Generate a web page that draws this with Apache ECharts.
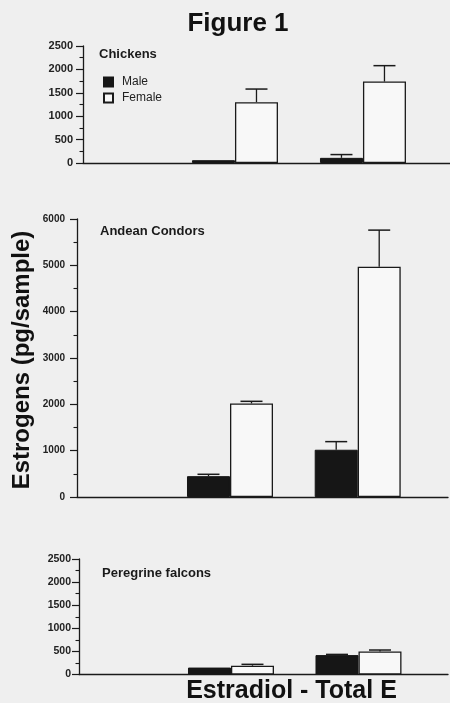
<!DOCTYPE html>
<html><head><meta charset="utf-8">
<script src="https://cdn.jsdelivr.net/npm/echarts@6.0.0/dist/echarts.min.js"></script>
<style>html,body{margin:0;padding:0;background:#efefef}#c{width:450px;height:703px}</style>
</head><body><div id="c"></div><script>
// ---- data ----
const categories = ['Estradiol', 'Total E'];
const panelNames = ['Chickens', 'Andean Condors', 'Peregrine falcons'];
const seriesNames = ['Male', 'Female'];
const chickenMale = [60, 110];
const chickenMaleErr = [0, 70];
const chickenFemale = [1300, 1740];
const chickenFemaleErr = [280, 340];
const condorMale = [450, 1020];
const condorMaleErr = [40, 175];
const condorFemale = [2020, 4970];
const condorFemaleErr = [45, 790];
const falconMale = [150, 420];
const falconMaleErr = [0, 15];
const falconFemale = [190, 500];
const falconFemaleErr = [30, 30];
const yMax = [2500, 6000, 2500];
const yInterval = [500, 1000, 500];

const panels = [
  {male: chickenMale, maleErr: chickenMaleErr, female: chickenFemale, femaleErr: chickenFemaleErr},
  {male: condorMale, maleErr: condorMaleErr, female: condorFemale, femaleErr: condorFemaleErr},
  {male: falconMale, maleErr: falconMaleErr, female: falconFemale, femaleErr: falconFemaleErr}
];

// ---- layout / style ----
const FONT = '"Liberation Sans", Arial, Helvetica, sans-serif';
const INK = '#1a1a1a';
const BAR_W = 43;
const layout = [
  {grid: {left: 83, right: 0, top: 46, bottom: 540}, xMin: -0.1875, xMax: 2.68, lbl: 11, m: 10},
  {grid: {left: 77, right: 2, top: 219, bottom: 206}, xMin: -0.198, xMax: 2.707, lbl: 10, m: 12},
  {grid: {left: 79, right: 2, top: 559, bottom: 28.5}, xMin: -0.192, xMax: 2.702, lbl: 10.5, m: 8}
];

const grids = [], xAxes = [], yAxes = [], series = [];
layout.forEach((L, i) => {
  grids.push(Object.assign({containLabel: false}, L.grid));
  xAxes.push({
    type: 'value', gridIndex: i, min: L.xMin, max: L.xMax,
    axisLine: {show: true, onZero: false, lineStyle: {color: INK, width: 1.3}},
    axisTick: {show: false}, axisLabel: {show: false}, splitLine: {show: false}
  });
  yAxes.push({
    type: 'value', gridIndex: i, min: 0, max: yMax[i], interval: yInterval[i],
    axisLine: {show: true, onZero: false, lineStyle: {color: INK, width: 1.3}},
    axisTick: {show: true, length: 7, lineStyle: {color: INK, width: 1.2}},
    minorTick: {show: true, splitNumber: 2, length: 3.5, lineStyle: {color: INK, width: 1.1}},
    axisLabel: {fontSize: L.lbl, fontWeight: 'bold', color: '#222', fontFamily: FONT, margin: L.m,
      formatter: v => String(v)},
    splitLine: {show: false}, minorSplitLine: {show: false}
  });
  const P = panels[i];
  series.push({
    type: 'bar', name: seriesNames[0], xAxisIndex: i, yAxisIndex: i,
    barWidth: BAR_W, barGap: '0%',
    itemStyle: {color: '#161616', borderColor: '#161616', borderWidth: 1},
    data: categories.map((c, j) => [j + 1, P.male[j]])
  });
  series.push({
    type: 'bar', name: seriesNames[1], xAxisIndex: i, yAxisIndex: i,
    barWidth: BAR_W, barGap: '0%',
    itemStyle: {color: '#f8f8f8', borderColor: INK, borderWidth: 1.3},
    data: categories.map((c, j) => [j + 1, P.female[j]])
  });
  const errData = [];
  categories.forEach((c, j) => {
    errData.push([j + 1, P.male[j], P.maleErr[j], -1]);
    errData.push([j + 1, P.female[j], P.femaleErr[j], 1]);
  });
  series.push({
    type: 'custom', xAxisIndex: i, yAxisIndex: i, z: 5, silent: true,
    renderItem: function (params, api) {
      const x = api.value(0), v = api.value(1), e = api.value(2), side = api.value(3);
      if (!e) return null;
      const base = api.coord([x, v]);
      const top = api.coord([x, v + e]);
      const cx = base[0] + side * BAR_W / 2;
      return {type: 'group', children: [
        {type: 'line', shape: {x1: cx, y1: base[1], x2: cx, y2: top[1]}, style: {stroke: INK, lineWidth: 1.3}},
        {type: 'line', shape: {x1: cx - 11, y1: top[1], x2: cx + 11, y2: top[1]}, style: {stroke: INK, lineWidth: 1.5}}
      ]};
    },
    data: errData
  });
});

const panelLabelPos = [[99, 54], [100, 231], [102, 573]];
const graphics = [
  {type: 'text', x: 238, y: 24, style: {text: 'Figure 1', font: 'bold 26px ' + FONT, fill: '#111', align: 'center', verticalAlign: 'middle'}},
  {type: 'text', x: 22, y: 360, rotation: Math.PI / 2,
   style: {text: 'Estrogens (pg/sample)', font: 'bold 24px ' + FONT, fill: '#111', align: 'center', verticalAlign: 'middle'}},
  {type: 'text', x: 291.5, y: 691, style: {text: 'Estradiol - Total E', font: 'bold 25px ' + FONT, fill: '#111', align: 'center', verticalAlign: 'middle'}}
];
panelNames.forEach((n, i) => {
  graphics.push({type: 'text', x: panelLabelPos[i][0], y: panelLabelPos[i][1],
    style: {text: n, font: 'bold 13px ' + FONT, fill: '#1a1a1a', verticalAlign: 'middle'}});
});

const option = {
  backgroundColor: '#efefef',
  animation: false,
  grid: grids, xAxis: xAxes, yAxis: yAxes, series: series,
  legend: {
    data: seriesNames, orient: 'vertical', left: 98, top: 71,
    itemWidth: 9, itemHeight: 9, itemGap: 4, icon: 'rect',
    textStyle: {fontSize: 12, fontFamily: FONT, color: '#222', padding: [0, 0, 0, 4]}
  },
  graphic: graphics
};
const chart = echarts.init(document.getElementById('c'), null, {renderer: 'canvas'});
chart.setOption(option);
</script></body></html>
